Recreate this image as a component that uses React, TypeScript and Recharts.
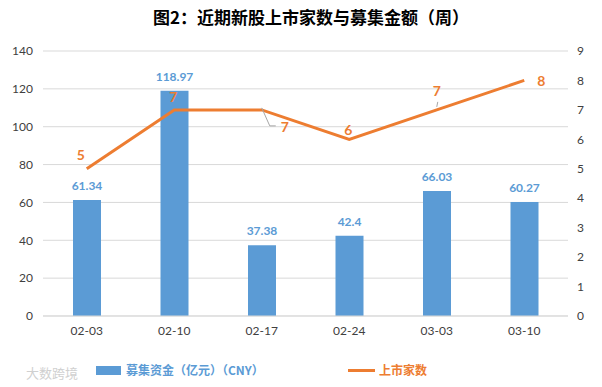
import React from 'react';
import { ComposedChart, Bar, Line, XAxis, YAxis, CartesianGrid, LabelList } from 'recharts';

const weeks = ['02-03', '02-10', '02-17', '02-24', '03-03', '03-10'];
const funds = [61.34, 118.97, 37.38, 42.4, 66.03, 60.27];
const listings = [5, 7, 7, 6, 7, 8];

const leftTicks = [0, 20, 40, 60, 80, 100, 120, 140];
const rightTicks = [0, 1, 2, 3, 4, 5, 6, 7, 8, 9];

// where each line label sits relative to its point
const lineLabelShift = [
  { dx: -6, dy: -14 },
  { dx: -1, dy: -13 },
  { dx: 23, dy: 17, leader: true },
  { dx: -1, dy: -10 },
  { dx: 0, dy: -19, tick: true },
  { dx: 17, dy: 0 },
];

const BLUE = '#5B9BD5';
const ORANGE = '#ED7D31';
const FONT = 'Lato, "Noto Sans CJK SC", sans-serif';

const data = weeks.map((w, i) => ({ week: w, funds: funds[i], listings: listings[i] }));

function LineLabel(props: any) {
  const { x, y, value, index } = props;
  const s = lineLabelShift[index] || { dx: 0, dy: -12 };
  const lx = x + s.dx;
  const ly = y + s.dy;
  return (
    <g>
      {s.leader && (
        <polyline
          points={`${x},${y - 2} ${x + 8},${ly - 1} ${x + 14},${ly - 1}`}
          fill="none"
          stroke="#a6a6a6"
          strokeWidth={1}
        />
      )}
      {s.tick && <line x1={x} y1={y - 3} x2={x + 1} y2={y - 8} stroke="#a6a6a6" strokeWidth={1} />}
      <text
        x={lx}
        y={ly}
        textAnchor="middle"
        dominantBaseline="central"
        fill={ORANGE}
        fontSize={14}
        fontWeight="bold"
        fontFamily={FONT}
      >
        {value}
      </text>
    </g>
  );
}

export default function App() {
  return (
    <div style={{ position: 'absolute', left: 0, top: 0, width: 602, height: 387, background: '#fff', fontFamily: FONT }}>
      <div
        style={{
          position: 'absolute',
          top: 5,
          left: 0,
          width: 622,
          textAlign: 'center',
          fontSize: 17,
          fontWeight: 'bold',
          color: '#000',
          fontFamily: '"Noto Sans CJK SC", sans-serif',
          lineHeight: '24px',
          whiteSpace: 'nowrap',
        }}
      >
        图2：近期新股上市家数与募集金额（周）
      </div>

      <ComposedChart
        width={602}
        height={387}
        data={data}
        margin={{ top: 51, left: 8, right: 4, bottom: 51 }}
      >
        <CartesianGrid vertical={false} stroke="#d9d9d9" yAxisId="left" />
        <XAxis
          dataKey="week"
          axisLine={{ stroke: '#d9d9d9' }}
          tickLine={false}
          height={20}
          tickMargin={4}
          tick={{ fill: '#404040', fontSize: 12, fontFamily: FONT }}
        />
        <YAxis
          yAxisId="left"
          width={35}
          domain={[0, 140]}
          ticks={leftTicks}
          axisLine={false}
          tickLine={false}
          tickMargin={4}
          tick={{ fill: '#404040', fontSize: 12, fontFamily: FONT }}
        />
        <YAxis
          yAxisId="right"
          orientation="right"
          width={30}
          domain={[0, 9]}
          ticks={rightTicks}
          axisLine={false}
          tickLine={false}
          tickMargin={3}
          tick={{ fill: '#404040', fontSize: 12, fontFamily: FONT }}
        />
        <Bar yAxisId="left" dataKey="funds" fill={BLUE} barSize={28} isAnimationActive={false}>
          <LabelList
            dataKey="funds"
            position="top"
            offset={10}
            fill={BLUE}
            fontSize={12}
            fontWeight="bold"
            fontFamily={FONT}
          />
        </Bar>
        <Line
          yAxisId="right"
          type="linear"
          dataKey="listings"
          stroke={ORANGE}
          strokeWidth={3}
          dot={false}
          isAnimationActive={false}
        >
          <LabelList dataKey="listings" content={<LineLabel />} />
        </Line>
      </ComposedChart>

      <div style={{ position: 'absolute', left: 26, top: 363, fontSize: 13, color: '#d0d0d0', fontFamily: '"Noto Sans CJK SC", sans-serif' }}>
        大数跨境
      </div>

      <div style={{ position: 'absolute', left: 96, top: 366, width: 25, height: 9, background: BLUE }} />
      <div
        style={{
          position: 'absolute',
          left: 126,
          top: 361,
          fontSize: 12,
          fontWeight: 'bold',
          color: BLUE,
          fontFamily: '"Noto Sans CJK SC", sans-serif',
          lineHeight: '18px',
          whiteSpace: 'nowrap',
        }}
      >
        募集资金（亿元）（CNY）
      </div>

      <div style={{ position: 'absolute', left: 348, top: 369, width: 27, height: 3, background: ORANGE }} />
      <div
        style={{
          position: 'absolute',
          left: 379,
          top: 361,
          fontSize: 12,
          fontWeight: 'bold',
          color: ORANGE,
          fontFamily: '"Noto Sans CJK SC", sans-serif',
          lineHeight: '18px',
          whiteSpace: 'nowrap',
        }}
      >
        上市家数
      </div>
    </div>
  );
}
